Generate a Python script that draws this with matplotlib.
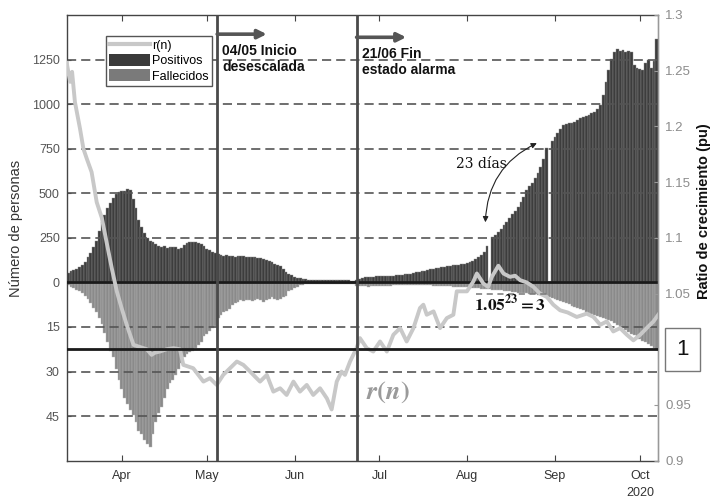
import numpy as np
import pandas as pd
import matplotlib
matplotlib.use("Agg")
import matplotlib.pyplot as plt
import matplotlib.dates as mdates
import matplotlib.transforms as mtransforms
from matplotlib.patches import Patch
from matplotlib.lines import Line2D

plt.rcParams['font.family'] = ['Liberation Sans', 'DejaVu Sans']
plt.rcParams['mathtext.fontset'] = 'stix'

# ---------------------------------------------------------------- data
inicio = pd.Timestamp('2020-03-13')

# daily positives (7-day smoothed), 13 Mar .. 7 Oct 2020
positivos = [
    # March 13-31
    55, 62, 70, 78, 88, 100, 115, 140, 165, 200, 235, 290, 340, 380, 415, 445, 475, 495, 505,
    # April
    510, 515, 522, 518, 470, 420, 350, 310, 275, 250, 235, 225, 215, 205, 200, 202, 195, 200, 196, 200,
    190, 195, 210, 220, 228, 224, 228, 222, 215, 202,
    # May
    190, 180, 172, 165, 158, 152, 150, 152, 148, 150, 145, 148, 150, 148, 145, 142, 145, 140, 138, 136,
    130, 125, 120, 112, 105, 100, 90, 75, 60, 50, 40,
    # June
    30, 25, 22, 19, 17, 16, 15, 15, 14, 14, 13, 14, 13, 12, 12, 13, 12, 12, 11, 12,
    10, 10, 14, 20, 26, 30, 32, 33, 33, 34,
    # July
    35, 35, 36, 37, 38, 38, 40, 42, 44, 46, 48, 50, 53, 56, 60, 63, 66, 70, 73, 76,
    79, 82, 85, 87, 90, 92, 95, 98, 100, 103, 106,
    # August
    110, 115, 122, 130, 140, 152, 170, 205, 0, 257, 268, 282, 300, 320, 340, 362, 385, 400, 425, 450,
    480, 520, 540, 560, 585, 615, 650, 690, 752, 0, 795,
    # September
    815, 836, 860, 882, 888, 893, 897, 900, 910, 920, 929, 935, 940, 948, 955, 970, 994, 1050, 1125, 1190,
    1256, 1290, 1312, 1300, 1305, 1295, 1300, 1290, 1218, 1200,
    # October 1-7
    1195, 1190, 1230, 1245, 1205, 1240, 1367,
]

# daily deaths (7-day smoothed), same days
fallecidos = [
    # March 13-31
    1, 1.5, 2, 2.5, 3, 3.5, 4.5, 5.5, 7, 8.5, 10, 12, 14, 17, 20, 23, 25, 29, 33,
    # April
    36, 39, 41, 43, 44.5, 47, 50, 51, 53, 54.5, 55.5, 51, 47, 44, 42, 39, 36, 34, 33, 31,
    29, 27, 25, 24, 23.5, 23, 22, 21, 20, 18,
    # May
    17.5, 16.5, 15.5, 14.5, 12, 11, 10, 9.5, 9, 7.5, 7, 6.5, 6, 6.2, 6, 5.8, 6.3, 6, 5.5, 6,
    6.5, 6, 5.5, 5, 5.5, 6, 5.5, 5, 4.5, 3, 2.5,
    # June
    2, 1.5, 1, 0.8, 0.7, 0.6, 0.6, 0.5, 0.5, 0.5, 0.5, 0.5, 0.5, 0.5, 0.5, 0.5, 0.5, 0.5, 0.5, 0.5,
    0.5, 0.5, 1.2, 1.3, 1.2, 1.3, 1.4, 1.3, 1.2, 1.3,
    # July
    1.3, 1.2, 1.3, 1.2, 1.1, 1.0, 0.9, 0.9, 0.8, 0.8, 0.8, 0.8, 0.8, 0.9, 0.9, 0.9, 1.0, 1.0, 1.0, 1.1,
    1.1, 1.2, 1.2, 1.2, 1.3, 1.3, 1.4, 1.4, 1.5, 1.5, 1.6,
    # August
    1.6, 1.7, 1.8, 1.9, 2.0, 2.1, 2.2, 2.3, 2.3, 2.4, 2.5, 2.6, 2.7, 2.8, 2.9, 3.0, 3.1, 3.3, 3.4, 3.5,
    3.6, 3.7, 3.8, 3.9, 4.0, 4.1, 4.2, 4.3, 4.6, 4.9, 5.2,
    # September
    5.6, 6.0, 6.4, 6.7, 7.0, 7.4, 7.8, 8.2, 8.6, 9.0, 9.4, 9.8, 10.2, 10.6, 11.0, 11.3, 11.6, 12.0, 12.4, 12.8,
    13.0, 13.6, 14.2, 14.8, 15.4, 16.0, 16.6, 17.2, 17.8, 18.4,
    # October 1-7
    19.0, 19.6, 20.2, 20.8, 21.4, 22.0, 22.6,
]

# growth ratio r(n): days since 13 Mar and value
r_dias = [
    -0.5, 0.7, 1.4, 2.4, 4.2, 5.4, 6.6, 8.3, 10.1, 11.9, 13.6, 15.4, 17.2, 18.9, 20.7, 23.1, 25.4, 27.8,
    29.5, 30.7, 32.5, 34.8, 37.2, 39.5, 40.7, 44.2, 47.8, 50.1, 52.5, 54.8, 57.2, 59.6, 61.9, 64.3,
    66.6, 67.8, 70.2, 72.5, 74.9, 77.2, 79.6, 81.9, 84.3, 86.6, 89.0, 91.4, 93.1, 94.9, 96.6, 97.8,
    99.6, 101.9, 103.1, 105.5, 107.8, 110.2, 112.6, 114.9, 117.3, 119.6, 122.0, 124.3, 125.5, 126.7,
    129.1, 131.4, 133.8, 136.1, 137.3, 138.5, 140.9, 143.2, 144.4, 146.7, 148.4, 149.7, 152.0, 153.8,
    156.1, 157.9, 159.7, 162.0, 164.4, 166.7, 169.1, 171.4, 173.8, 176.5, 179.7, 183.2, 185.6, 188.0,
    190.3, 192.6, 195.0, 197.4, 199.7, 202.1, 204.4, 206.8, 208.5,
]
r_valores = [
    1.257, 1.240, 1.249, 1.222, 1.198, 1.180, 1.171, 1.159, 1.132, 1.118, 1.096, 1.073, 1.052, 1.037,
    1.022, 1.004, 1.002, 1.000, 0.995, 0.997, 0.998, 1.000, 1.001, 1.000, 0.986, 0.983, 0.971, 0.974,
    0.968, 0.977, 0.983, 0.989, 0.986, 0.980, 0.974, 0.971, 0.977, 0.962, 0.965, 0.959, 0.971, 0.962,
    0.968, 0.959, 0.965, 0.956, 0.946, 0.971, 0.980, 0.977, 0.989, 1.001, 1.010, 1.001, 0.998, 1.007,
    0.998, 1.013, 1.019, 1.007, 1.019, 1.037, 1.040, 1.031, 1.034, 1.019, 1.028, 1.031, 1.052, 1.052,
    1.052, 1.061, 1.068, 1.059, 1.056, 1.065, 1.075, 1.068, 1.065, 1.066, 1.062, 1.060, 1.056, 1.050,
    1.047, 1.040, 1.035, 1.033, 1.029, 1.032, 1.029, 1.022, 1.025, 1.016, 1.019, 1.013, 1.008, 1.013,
    1.019, 1.025, 1.031,
]

# left axis: positives above zero, deaths (rescaled) below zero
escala_fallecidos = 250 / 15
ticks_izq = [-750, -500, -250, 0, 250, 500, 750, 1000, 1250]
ticks_der = [0.9, 0.95, 1.0, 1.05, 1.1, 1.15, 1.2, 1.25, 1.3]

fecha_desescalada = pd.Timestamp('2020-05-04 16:00')
fecha_fin_alarma = pd.Timestamp('2020-06-22 22:00')

# ---------------------------------------------------------------- figure
fechas = pd.date_range(inicio, periods=len(positivos), freq='D')
r_fechas = inicio + pd.to_timedelta(r_dias, unit='D')

C_POS = '#3d3d3d'
C_FAL = '#8a8a8a'
C_R = '#c8c8c8'

fig = plt.figure(figsize=(7.13, 5.01), dpi=100)
ax = fig.add_axes([66.7 / 713, 1 - 460.7 / 501, (658.3 - 66.7) / 713, (460.7 - 15) / 501])

ax.bar(fechas, positivos, width=1.0, color=C_POS, edgecolor='#8c8c8c', linewidth=0.3, zorder=1)
ax.bar(fechas, -np.array(fallecidos) * escala_fallecidos, width=1.0, color=C_FAL,
       edgecolor='#b8b8b8', linewidth=0.3, zorder=1)

for t in ticks_izq:
    if t == 0:
        ax.axhline(0, color='#1a1a1a', lw=2.0, zorder=3)
    else:
        ax.axhline(t, color='#555555', lw=1.2, ls=(0, (5.5, 3.0)), zorder=2)

ax.set_ylim(-1000, 1500)
ax.set_yticks(ticks_izq)
ax.set_yticklabels([str(int(round(-t / escala_fallecidos))) if t < 0 else str(t) for t in ticks_izq])
ax.set_xlim(inicio - pd.Timedelta(hours=12), fechas[-1] + pd.Timedelta(hours=12))

ax.xaxis.set_major_locator(mdates.MonthLocator(bymonth=range(4, 11)))
ax.xaxis.set_major_formatter(mdates.DateFormatter('%b'))
ax.tick_params(axis='x', direction='in', length=4, top=True, color='#444444',
               labelcolor='#333333', labelsize=9, pad=7)
ax.tick_params(axis='y', direction='in', length=3, color='#444444',
               labelcolor='#555555', labelsize=9, pad=5)
for s in ['left', 'bottom', 'top']:
    ax.spines[s].set_color('#444444')
    ax.spines[s].set_linewidth(1.0)

fig.text(0.0225, 0.545, 'Número de personas', rotation=90, ha='center', va='center',
         fontsize=10.5, color='#333333')

# year under the last month label
ax.text(pd.Timestamp('2020-10-01'), -0.072, '2020', ha='center', va='center', fontsize=9,
        color='#333333', transform=mtransforms.blended_transform_factory(ax.transData, ax.transAxes))

# ---------------------------------------------------------------- growth ratio
ax2 = ax.twinx()
ax2.plot(r_fechas, r_valores, color=C_R, lw=2.8, zorder=2, solid_joinstyle='round')
ax2.set_ylim(0.9, 1.3)
ax2.set_yticks(ticks_der)
ax2.set_yticklabels(['' if abs(t - 1.0) < 1e-9 else f'{t:g}' for t in ticks_der])
ax2.tick_params(axis='y', direction='in', length=3, color='#999999', labelcolor='#8c8c8c',
                labelsize=9.5, pad=5)
ax2.spines['right'].set_color('#999999')
ax2.spines['right'].set_linewidth(1.0)
for s in ['left', 'bottom', 'top']:
    ax2.spines[s].set_visible(False)

ax2.axhline(1.0, color='#1a1a1a', lw=2.0, zorder=4)
ax2.plot([pd.Timestamp('2020-08-04'), pd.Timestamp('2020-08-30')], [1.05, 1.05],
         color='#777777', lw=1.1, ls=(0, (4, 3)), zorder=3)

for f in (fecha_desescalada, fecha_fin_alarma):
    ax2.axvline(f, color='#4a4a4a', lw=2.0, zorder=5)

ax2.text(1.077, 0.56, 'Ratio de crecimiento (pu)', transform=ax2.transAxes, rotation=90,
         ha='center', va='center', fontsize=10.5, fontweight='bold', color='#111111')
ax2.text(1.03, 1.0, '1', transform=mtransforms.blended_transform_factory(ax2.transAxes, ax2.transData),
         ha='left', va='center', fontsize=16, color='#111111',
         bbox=dict(boxstyle='square,pad=0.5', fc='white', ec='#777777', lw=1.0),
         clip_on=False, zorder=6)

# arrows and captions for the two milestones
xy_mix = ('data', 'axes fraction')
for f, dx, y, texto in [
    (fecha_desescalada, 17.5, 0.957, '04/05 Inicio\ndesescalada'),
    (fecha_fin_alarma, 17.5, 0.950, '21/06 Fin\nestado alarma'),
]:
    ax2.annotate('', xy=(f + pd.Timedelta(days=dx), y), xycoords=xy_mix,
                 xytext=(f, y), textcoords=xy_mix,
                 arrowprops=dict(arrowstyle='-|>', color='#555555', lw=2.6, mutation_scale=13,
                                 shrinkA=0, shrinkB=0), zorder=6)
    ax2.text(f + pd.Timedelta(days=1.8), y - 0.022, texto, transform=ax2.get_xaxis_transform(),
             ha='left', va='top', fontsize=10, fontweight='bold', color='#111111',
             linespacing=1.2, zorder=6)

# doubling-time annotation
ax2.text(pd.Timestamp('2020-08-06'), 1.1665, '23 días', ha='center', va='center',
         fontsize=10, family='DejaVu Serif', color='#111111', zorder=6)
ax2.annotate('', xy=(pd.Timestamp('2020-08-07 10:00'), 1.114),
             xytext=(pd.Timestamp('2020-08-25 14:00'), 1.185),
             arrowprops=dict(arrowstyle='<|-|>', color='#222222', lw=0.8, mutation_scale=8,
                             connectionstyle='arc3,rad=0.3', shrinkA=0, shrinkB=0), zorder=6)
ax2.text(pd.Timestamp('2020-08-16'), 1.041, r'$\mathbf{1.05^{23} = 3}$', ha='center', va='center',
         fontsize=12.5, color='#111111', zorder=6)
ax2.text(pd.Timestamp('2020-07-04'), 0.961, r'$\boldsymbol{r(n)}$', ha='center', va='center',
         fontsize=19, color='#9a9a9a', zorder=6)

# legend
handles = [Line2D([], [], color=C_R, lw=3),
           Patch(facecolor='#3a3a3a', edgecolor='none'),
           Patch(facecolor='#7a7a7a', edgecolor='none')]
leg = ax2.legend(handles, ['r(n)', 'Positivos', 'Fallecidos'], loc='upper left',
                 bbox_to_anchor=(0.066, 0.953), borderaxespad=0, fontsize=9,
                 handlelength=3.3, handleheight=1.1, handletextpad=0.15, labelspacing=0.15,
                 borderpad=0.25, fancybox=False, framealpha=1, edgecolor='#555555')
leg.get_frame().set_linewidth(1.0)
leg.set_zorder(7)

fig.savefig('out.png', dpi=100)
